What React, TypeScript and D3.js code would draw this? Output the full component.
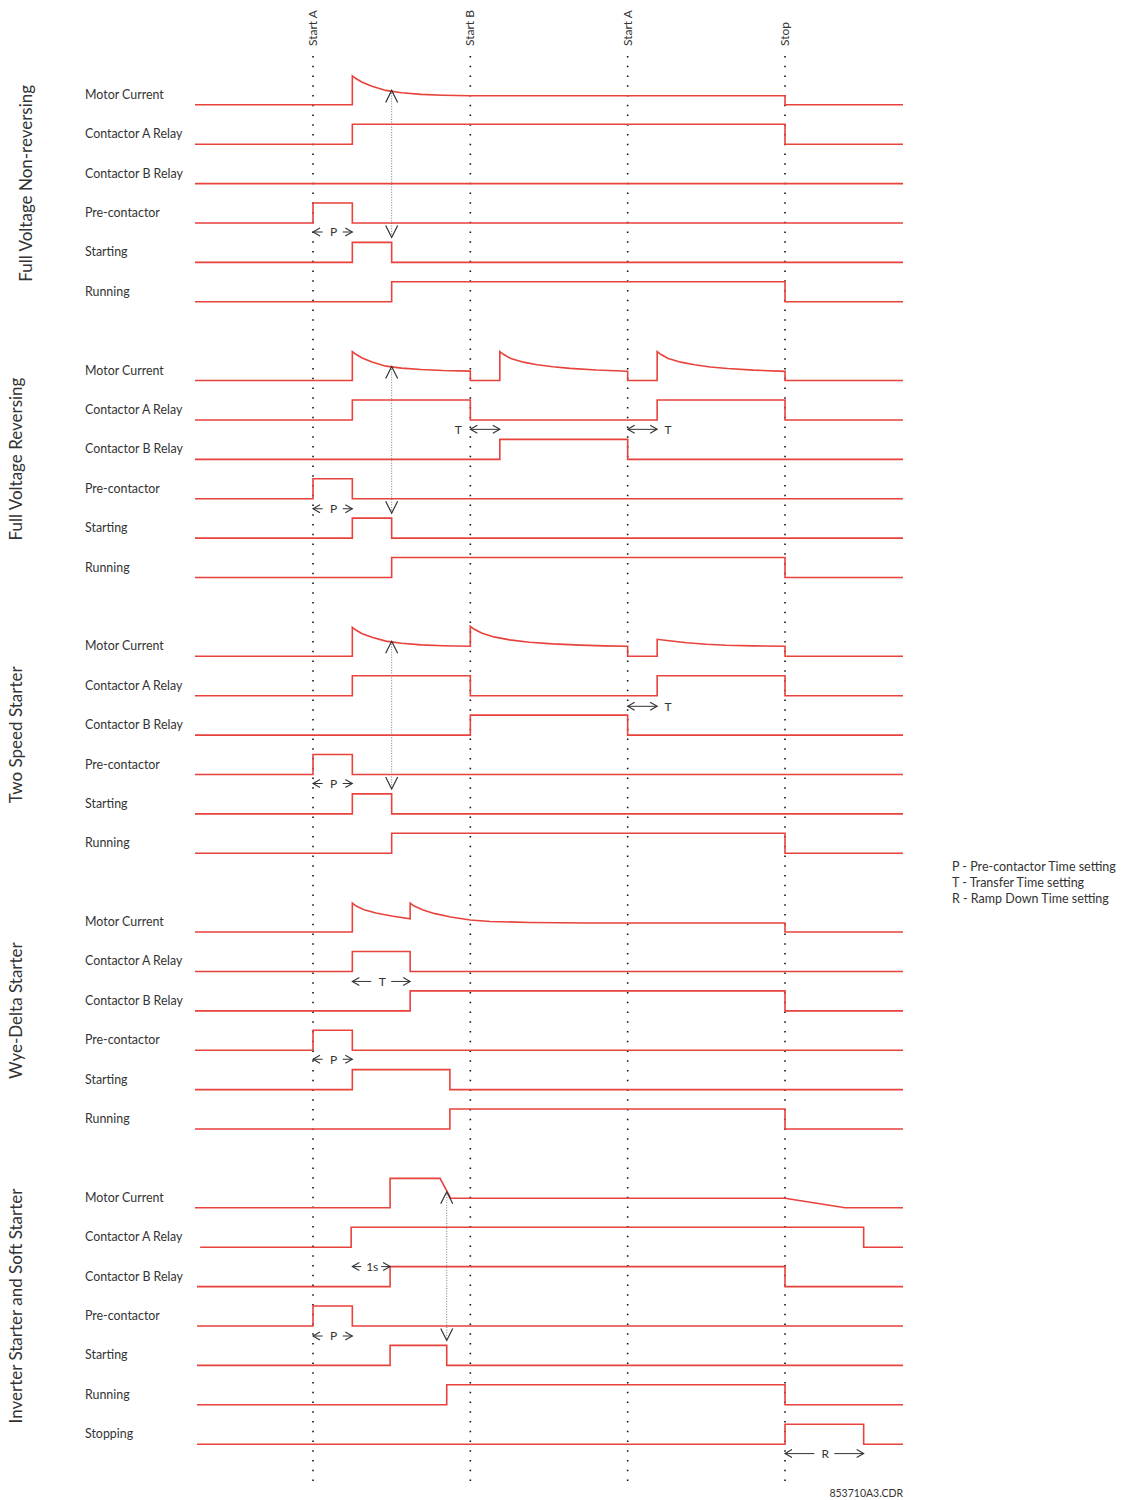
import React from 'react';
import * as d3 from 'd3';

type Pt = [number, number];

// ---------- categories / labels ----------
const EVENT_TIMES = [3, 7, 11, 15];
const EVENT_LABELS = ['Start A', 'Start B', 'Start A', 'Stop'];
const SECTION_TITLES = [
  'Full Voltage Non-reversing',
  'Full Voltage Reversing',
  'Two Speed Starter',
  'Wye-Delta Starter',
  'Inverter Starter and Soft Starter',
];
const SIGNAL_NAMES = ['Motor Current', 'Contactor A Relay', 'Contactor B Relay', 'Pre-contactor', 'Starting', 'Running'];
const SOFT_SIGNAL_NAMES = [...SIGNAL_NAMES, 'Stopping'];
const LEGEND = ['P - Pre-contactor Time setting', 'T - Transfer Time setting', 'R - Ramp Down Time setting'];
const FOOTER = '853710A3.CDR';

// ---------- series values: [time, level] ----------
// Section 1: Full Voltage Non-reversing
const mc1: Pt[] = [[0, 0], [4, 0], [4, 1.45], [4.1, 1.3], [4.25, 1.13], [4.5, 0.93], [4.85, 0.72], [5.25, 0.6], [5.75, 0.52], [6.3, 0.48], [7, 0.45], [15, 0.45], [15, 0], [18, 0]];
const ca1: Pt[] = [[0, 0], [4, 0], [4, 1], [15, 1], [15, 0], [18, 0]];
const cb1: Pt[] = [[0, 0], [18, 0]];
const pre1: Pt[] = [[0, 0], [3, 0], [3, 1], [4, 1], [4, 0], [18, 0]];
const st1: Pt[] = [[0, 0], [4, 0], [4, 1], [5, 1], [5, 0], [18, 0]];
const run1: Pt[] = [[0, 0], [5, 0], [5, 1], [15, 1], [15, 0], [18, 0]];

// Section 2: Full Voltage Reversing
const mc2: Pt[] = [[0, 0], [4, 0], [4, 1.45], [4.1, 1.3], [4.25, 1.13], [4.5, 0.93], [4.85, 0.72], [5.25, 0.62], [5.75, 0.55], [6.3, 0.5], [7, 0.47], [7, 0], [7.75, 0],
  [7.75, 1.45], [7.85, 1.3], [8.03, 1.1], [8.35, 0.92], [8.7, 0.79], [9.1, 0.69], [9.54, 0.61], [10.2, 0.53], [11, 0.47], [11, 0], [11.75, 0],
  [11.75, 1.45], [11.85, 1.3], [12.03, 1.1], [12.35, 0.92], [12.7, 0.79], [13.1, 0.68], [13.54, 0.6], [14.2, 0.52], [15, 0.46], [15, 0], [18, 0]];
const ca2: Pt[] = [[0, 0], [4, 0], [4, 1], [7, 1], [7, 0], [11.75, 0], [11.75, 1], [15, 1], [15, 0], [18, 0]];
const cb2: Pt[] = [[0, 0], [7.75, 0], [7.75, 1], [11, 1], [11, 0], [18, 0]];
const pre2: Pt[] = [[0, 0], [3, 0], [3, 1], [4, 1], [4, 0], [18, 0]];
const st2: Pt[] = [[0, 0], [4, 0], [4, 1], [5, 1], [5, 0], [18, 0]];
const run2: Pt[] = [[0, 0], [5, 0], [5, 1], [15, 1], [15, 0], [18, 0]];

// Section 3: Two Speed Starter
const mc3: Pt[] = [[0, 0], [4, 0], [4, 1.45], [4.1, 1.3], [4.25, 1.13], [4.5, 0.95], [4.85, 0.76], [5.25, 0.65], [5.75, 0.57], [6.3, 0.53], [7, 0.5],
  [7, 1.5], [7.1, 1.35], [7.3, 1.15], [7.6, 0.97], [8, 0.82], [8.5, 0.7], [9.1, 0.62], [9.8, 0.56], [10.4, 0.52], [11, 0.5], [11, 0], [11.75, 0],
  [11.75, 0.85], [12, 0.79], [12.5, 0.68], [13, 0.6], [13.5, 0.55], [14.2, 0.52], [15, 0.5], [15, 0], [18, 0]];
const ca3: Pt[] = [[0, 0], [4, 0], [4, 1], [7, 1], [7, 0], [11.75, 0], [11.75, 1], [15, 1], [15, 0], [18, 0]];
const cb3: Pt[] = [[0, 0], [7, 0], [7, 1], [11, 1], [11, 0], [18, 0]];
const pre3: Pt[] = [[0, 0], [3, 0], [3, 1], [4, 1], [4, 0], [18, 0]];
const st3: Pt[] = [[0, 0], [4, 0], [4, 1], [5, 1], [5, 0], [18, 0]];
const run3: Pt[] = [[0, 0], [5, 0], [5, 1], [15, 1], [15, 0], [18, 0]];

// Section 4: Wye-Delta Starter
const mc4: Pt[] = [[0, 0], [4, 0], [4, 1.45], [4.1, 1.3], [4.3, 1.12], [4.6, 0.95], [5, 0.8], [5.47, 0.66],
  [5.47, 1.45], [5.57, 1.3], [5.8, 1.1], [6.1, 0.92], [6.5, 0.75], [7, 0.6], [7.5, 0.53], [8.5, 0.48], [10, 0.45], [15, 0.45], [15, 0], [18, 0]];
const ca4: Pt[] = [[0, 0], [4, 0], [4, 1], [5.47, 1], [5.47, 0], [18, 0]];
const cb4: Pt[] = [[0, 0], [5.47, 0], [5.47, 1], [15, 1], [15, 0], [18, 0]];
const pre4: Pt[] = [[0, 0], [3, 0], [3, 1], [4, 1], [4, 0], [18, 0]];
const st4: Pt[] = [[0, 0], [4, 0], [4, 1], [6.48, 1], [6.48, 0], [18, 0]];
const run4: Pt[] = [[0, 0], [6.48, 0], [6.48, 1], [15, 1], [15, 0], [18, 0]];

// Section 5: Inverter Starter and Soft Starter
const mc5: Pt[] = [[0, 0], [4.96, 0], [4.96, 1.47], [6.23, 1.47], [6.5, 0.48], [15, 0.48], [16.53, 0], [18, 0]];
const ca5: Pt[] = [[0.13, 0], [3.97, 0], [3.97, 1], [17, 1], [17, 0], [18, 0]];
const cb5: Pt[] = [[0.05, 0], [4.96, 0], [4.96, 1], [15, 1], [15, 0], [18, 0]];
const pre5: Pt[] = [[0.05, 0], [3, 0], [3, 1], [4, 1], [4, 0], [18, 0]];
const st5: Pt[] = [[0.05, 0], [4.96, 0], [4.96, 1], [6.4, 1], [6.4, 0], [18, 0]];
const run5: Pt[] = [[0.05, 0], [6.4, 0], [6.4, 1], [15, 1], [15, 0], [18, 0]];
const stop5: Pt[] = [[0.05, 0], [15, 0], [15, 1], [17, 1], [17, 0], [18, 0]];

const SECTION_SERIES: Pt[][][] = [
  [mc1, ca1, cb1, pre1, st1, run1],
  [mc2, ca2, cb2, pre2, st2, run2],
  [mc3, ca3, cb3, pre3, st3, run3],
  [mc4, ca4, cb4, pre4, st4, run4],
  [mc5, ca5, cb5, pre5, st5, run5, stop5],
];

// vertical measurement markers: [section, time, topRow, topLevel, bottomRow, bottomLevel]
const MARKERS: [number, number, number, number, number, number][] = [
  [0, 5, 0, 0.72, 4, 1.25],
  [1, 5, 0, 0.7, 4, 1.25],
  [2, 5, 0, 0.75, 4, 1.25],
  [4, 6.4, 0, 0.8, 4, 1.25],
];

// span arrows: [section, row, level, t0, t1, label, style]
const SPANS: [number, number, number, number, number, string, string][] = [
  [0, 3, -0.45, 3, 4, 'P', 'split'],
  [1, 3, -0.5, 3, 4, 'P', 'split'],
  [1, 1, -0.47, 7, 7.75, 'T', 'doubleLeft'],
  [1, 1, -0.47, 11, 11.75, 'T', 'doubleRight'],
  [2, 3, -0.45, 3, 4, 'P', 'split'],
  [2, 1, -0.53, 11, 11.75, 'T', 'doubleRight'],
  [3, 1, -0.5, 4, 5.47, 'T', 'split'],
  [3, 3, -0.45, 3, 4, 'P', 'split'],
  [4, 2, 1.0, 4, 4.96, '1s', 'split'],
  [4, 3, -0.5, 3, 4, 'P', 'split'],
  [4, 6, -0.47, 15, 17, 'R', 'split'],
];

// ---------- layout ----------
const W = 1131;
const H = 1500;
const RED = '#e8423c';
const INK = '#333333';
const FONT = 'Lato, "Noto Sans", sans-serif';
const x = d3.scaleLinear().domain([0, 18]).range([195, 903]);
const SECTION_Y0 = 104.8;
const SECTION_STEP = 275.75;
const ROW_STEP = 39.4;
const LEVEL_PX = 20;
const rowY = (s: number, r: number) => SECTION_Y0 + s * SECTION_STEP + r * ROW_STEP;
const yScale = (s: number, r: number) =>
  d3.scaleLinear().domain([0, 1]).range([rowY(s, r), rowY(s, r) - LEVEL_PX]);

function headPath(tipX: number, y: number, dir: number, len = 7, half = 4) {
  return `M${tipX + dir * -len},${y - half}L${tipX},${y}L${tipX + dir * -len},${y + half}`;
}

function Span({ s }: { s: [number, number, number, number, number, string, string] }) {
  const [sec, row, level, t0, t1, label, style] = s;
  const y = yScale(sec, row)(level);
  const x0 = x(t0);
  const x1 = x(t1);
  const els: React.ReactNode[] = [];
  if (style === 'split') {
    const mid = (x0 + x1) / 2;
    els.push(<path key="l" d={`M${x0},${y}L${mid - 10},${y}`} stroke={INK} strokeWidth={1} fill="none" />);
    els.push(<path key="lh" d={headPath(x0, y, -1)} stroke={INK} strokeWidth={1.1} fill="none" />);
    els.push(<path key="r" d={`M${mid + 10},${y}L${x1},${y}`} stroke={INK} strokeWidth={1} fill="none" />);
    els.push(<path key="rh" d={headPath(x1, y, 1)} stroke={INK} strokeWidth={1.1} fill="none" />);
    els.push(
      <text key="t" x={mid + 1} y={y + 4.3} textAnchor="middle" fontSize={12} fill={INK} fontFamily={FONT}>
        {label}
      </text>
    );
  } else {
    els.push(<path key="l" d={`M${x0},${y}L${x1},${y}`} stroke={INK} strokeWidth={1} fill="none" />);
    els.push(<path key="lh" d={headPath(x0, y, -1)} stroke={INK} strokeWidth={1.1} fill="none" />);
    els.push(<path key="rh" d={headPath(x1, y, 1)} stroke={INK} strokeWidth={1.1} fill="none" />);
    const lx = style === 'doubleLeft' ? x0 - 12 : x1 + 11;
    els.push(
      <text key="t" x={lx} y={y + 4.3} textAnchor="middle" fontSize={12} fill={INK} fontFamily={FONT}>
        {label}
      </text>
    );
  }
  return <g>{els}</g>;
}

export default function App() {
  const line = (s: number, r: number) => {
    const ys = yScale(s, r);
    return d3
      .line<Pt>()
      .x((d) => x(d[0]))
      .y((d) => ys(d[1]))
      .curve(d3.curveLinear);
  };

  return (
    <svg
      width={W}
      height={H}
      viewBox={`0 0 ${W} ${H}`}
      style={{ position: 'absolute', left: 0, top: 0, background: '#fff' }}
      fontFamily={FONT}
    >
      <rect x={0} y={0} width={W} height={H} fill="#fff" />

      {/* event lines */}
      {EVENT_TIMES.map((t, i) => (
        <g key={'ev' + i}>
          <line x1={x(t)} x2={x(t)} y1={56} y2={1486} stroke="#111" strokeWidth={1.6} strokeDasharray="1.6 8.15" />
          <text
            transform={`translate(${x(t) + 4},46) rotate(-90)`}
            fontSize={12}
            fill={INK}
            textAnchor="start"
          >
            {EVENT_LABELS[i]}
          </text>
        </g>
      ))}

      {/* section titles */}
      {SECTION_TITLES.map((title, s) => {
        const n = s === 4 ? 7 : 6;
        const cy = (rowY(s, 0) + rowY(s, n - 1)) / 2 - 20;
        const bx = s === 0 ? 32 : 22;
        return (
          <text
            key={'st' + s}
            transform={`translate(${bx},${cy}) rotate(-90)`}
            textAnchor="middle"
            fontSize={17}
            fill={INK}
          >
            {title}
          </text>
        );
      })}

      {/* signal rows */}
      {SECTION_SERIES.map((rows, s) => {
        const names = s === 4 ? SOFT_SIGNAL_NAMES : SIGNAL_NAMES;
        return (
          <g key={'sec' + s}>
            {rows.map((data, r) => (
              <g key={'r' + r}>
                <text x={85} y={rowY(s, r) - 6} fontSize={12.4} fill={INK}>
                  {names[r]}
                </text>
                <path d={line(s, r)(data) || ''} fill="none" stroke={RED} strokeWidth={1.6} strokeLinejoin="miter" />
              </g>
            ))}
          </g>
        );
      })}

      {/* measurement markers */}
      {MARKERS.map(([s, t, r0, l0, r1, l1], i) => {
        const xx = x(t);
        const yTop = yScale(s, r0)(l0);
        const yBot = yScale(s, r1)(l1);
        return (
          <g key={'mk' + i}>
            <line x1={xx} x2={xx} y1={yTop} y2={yBot} stroke="#777" strokeWidth={1} strokeDasharray="1 1.6" />
            <path d={`M${xx - 6},${yTop + 12}L${xx},${yTop}L${xx + 6},${yTop + 12}`} stroke={INK} strokeWidth={1.2} fill="none" />
            <path d={`M${xx - 6},${yBot - 12}L${xx},${yBot}L${xx + 6},${yBot - 12}`} stroke={INK} strokeWidth={1.2} fill="none" />
          </g>
        );
      })}

      {/* span arrows */}
      {SPANS.map((s, i) => (
        <Span key={'sp' + i} s={s} />
      ))}

      {/* legend */}
      {LEGEND.map((l, i) => (
        <text key={'lg' + i} x={952} y={871 + i * 16} fontSize={12.5} fill={INK}>
          {l}
        </text>
      ))}

      <text x={903} y={1497} fontSize={10.5} fill={INK} textAnchor="end">
        {FOOTER}
      </text>
    </svg>
  );
}
